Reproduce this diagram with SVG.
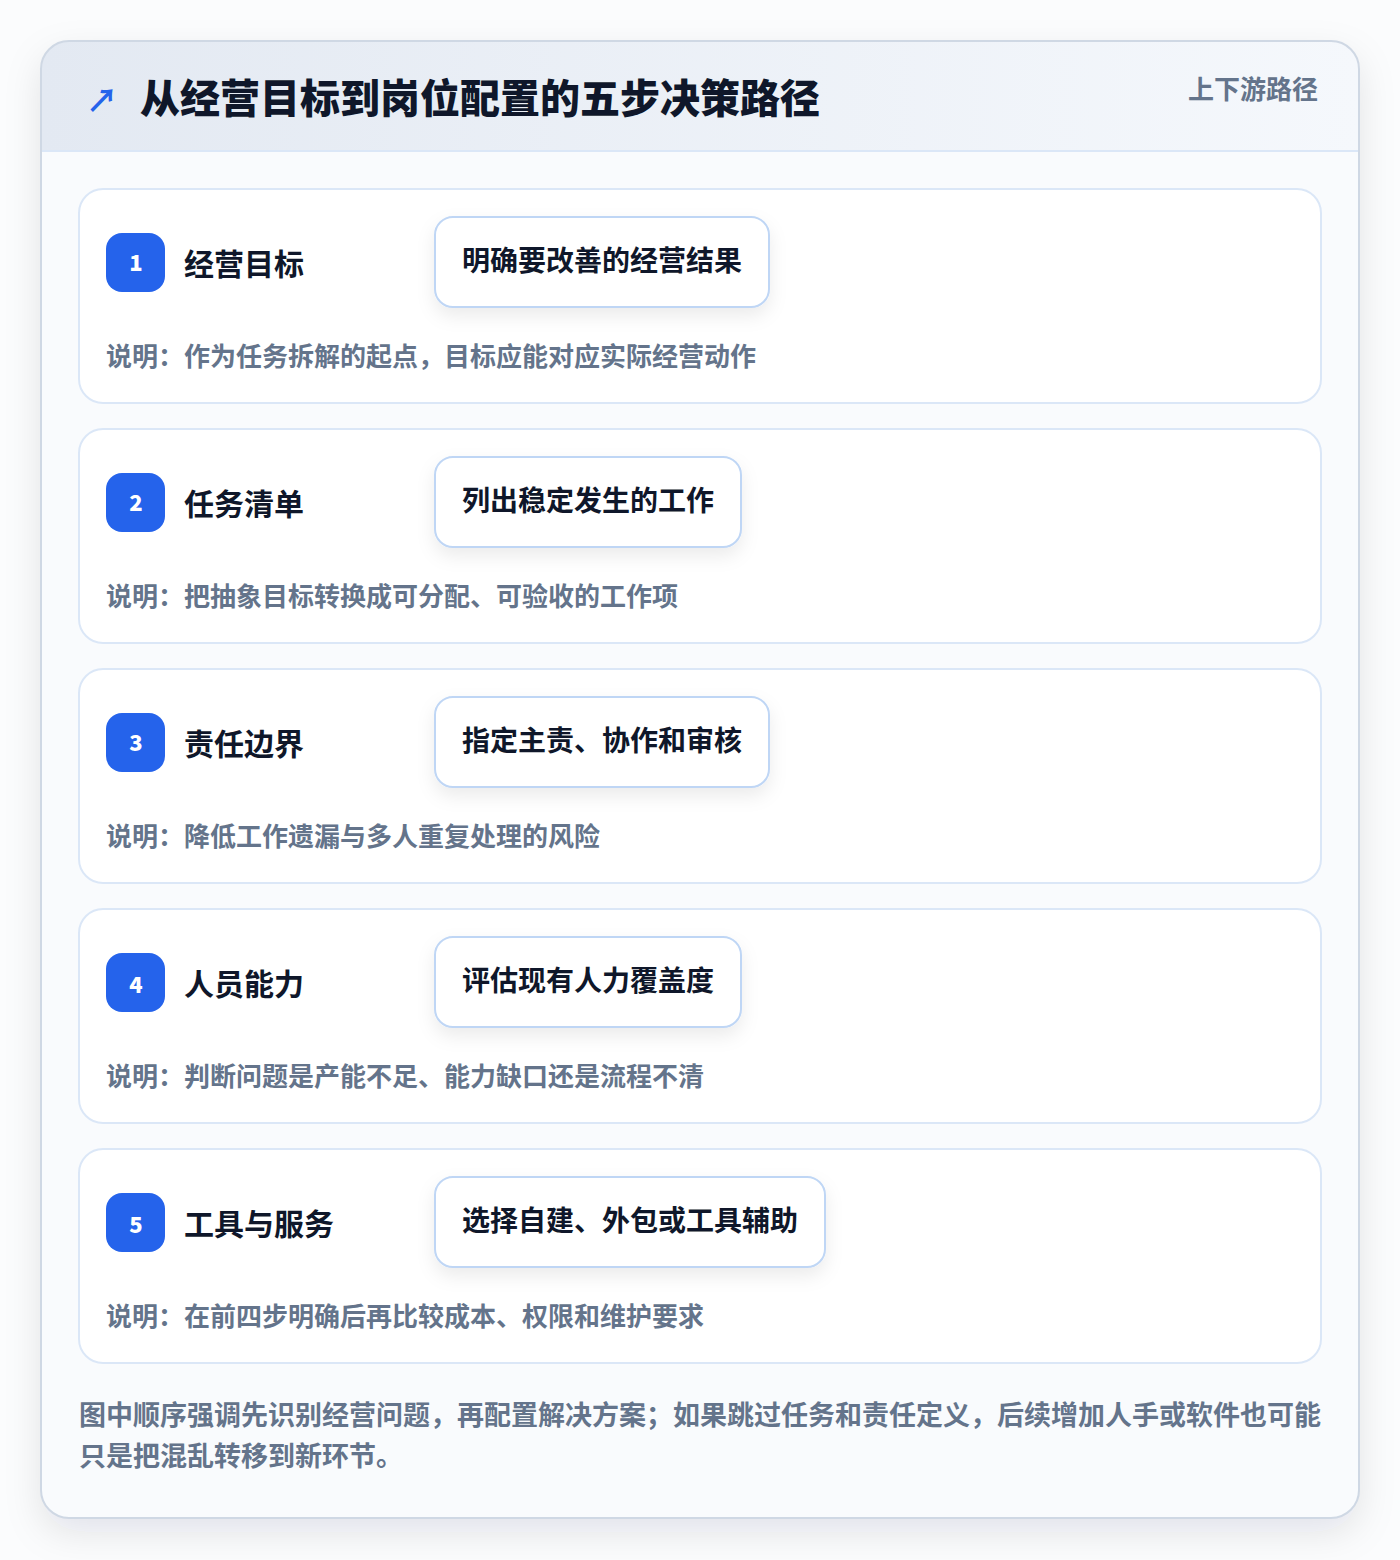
<svg xmlns="http://www.w3.org/2000/svg" width="1400" height="1560" viewBox="0 0 1400 1560">
<defs>
<style>
.cjk{font-family:"Noto Sans CJK SC","Noto Sans",sans-serif}
.card{fill:#ffffff;stroke:#dbe7f7;stroke-width:2}
.badge{fill:#2563eb}
.num{font-size:22px;font-weight:900;fill:#ffffff;text-anchor:middle}
.ttl{font-size:30px;font-weight:700;fill:#0f172a}
.pill{fill:#ffffff;stroke:#bfd6f5;stroke-width:2}
.ptxt{font-size:28px;font-weight:700;fill:#0f172a}
.desc{font-size:26px;font-weight:700;fill:#64748b}
.foot{font-size:27px;font-weight:700;fill:#64748b}
</style>
<linearGradient id="hdr" x1="0" y1="0" x2="1" y2="0">
<stop offset="0" stop-color="#e3e9f2"/>
<stop offset="1" stop-color="#f5f8fc"/>
</linearGradient>
<filter id="outerShadow" x="-10%" y="-10%" width="120%" height="120%">
<feDropShadow dx="0" dy="14" stdDeviation="18" flood-color="#0f172a" flood-opacity="0.10"/>
</filter>
<filter id="pillShadow" x="-20%" y="-40%" width="140%" height="190%">
<feDropShadow dx="0" dy="8" stdDeviation="9" flood-color="#0f172a" flood-opacity="0.08"/>
</filter>
<clipPath id="outerClip"><rect x="41" y="41" width="1318" height="1477" rx="28"/></clipPath>
</defs>
<rect x="0" y="0" width="1400" height="1560" fill="#fbfcfd"/>
<g id="frame">
<rect x="41" y="41" width="1318" height="1477" rx="28" fill="#f9fbfd" filter="url(#outerShadow)"/>
<g clip-path="url(#outerClip)">
<rect x="41" y="41" width="1318" height="110" fill="url(#hdr)"/>
</g>
<line x1="41" y1="151" x2="1359" y2="151" stroke="#dbe7f7" stroke-width="2"/>
<rect x="41" y="41" width="1318" height="1477" rx="28" fill="none" stroke="#cfd8e4" stroke-width="2"/>
</g>
<g id="header">
<text x="86" y="112" class="cjk" font-size="32" font-weight="700" fill="#2563eb">↗</text>
<text x="140" y="113" class="cjk" font-size="40" font-weight="900" fill="#0f172a">从经营目标到岗位配置的五步决策路径</text>
<text x="1318" y="99" class="cjk" font-size="26" font-weight="700" fill="#64748b" text-anchor="end">上下游路径</text>
</g>
<g id="step1">
<rect class="card" x="79" y="189" width="1242" height="214" rx="24"/>
<rect class="badge" x="106" y="233" width="59" height="59" rx="16"/>
<text class="cjk num" x="136" y="271">1</text>
<text class="cjk ttl" x="184" y="275">经营目标</text>
<rect class="pill" x="435" y="217" width="334" height="90" rx="18" filter="url(#pillShadow)"/>
<text class="cjk ptxt" x="462" y="271">明确要改善的经营结果</text>
<text class="cjk desc" x="106" y="366">说明：作为任务拆解的起点，目标应能对应实际经营动作</text>
</g>
<g id="step2">
<rect class="card" x="79" y="429" width="1242" height="214" rx="24"/>
<rect class="badge" x="106" y="473" width="59" height="59" rx="16"/>
<text class="cjk num" x="136" y="511">2</text>
<text class="cjk ttl" x="184" y="515">任务清单</text>
<rect class="pill" x="435" y="457" width="306" height="90" rx="18" filter="url(#pillShadow)"/>
<text class="cjk ptxt" x="462" y="511">列出稳定发生的工作</text>
<text class="cjk desc" x="106" y="606">说明：把抽象目标转换成可分配、可验收的工作项</text>
</g>
<g id="step3">
<rect class="card" x="79" y="669" width="1242" height="214" rx="24"/>
<rect class="badge" x="106" y="713" width="59" height="59" rx="16"/>
<text class="cjk num" x="136" y="751">3</text>
<text class="cjk ttl" x="184" y="755">责任边界</text>
<rect class="pill" x="435" y="697" width="334" height="90" rx="18" filter="url(#pillShadow)"/>
<text class="cjk ptxt" x="462" y="751">指定主责、协作和审核</text>
<text class="cjk desc" x="106" y="846">说明：降低工作遗漏与多人重复处理的风险</text>
</g>
<g id="step4">
<rect class="card" x="79" y="909" width="1242" height="214" rx="24"/>
<rect class="badge" x="106" y="953" width="59" height="59" rx="16"/>
<text class="cjk num" x="136" y="993">4</text>
<text class="cjk ttl" x="184" y="995">人员能力</text>
<rect class="pill" x="435" y="937" width="306" height="90" rx="18" filter="url(#pillShadow)"/>
<text class="cjk ptxt" x="462" y="991">评估现有人力覆盖度</text>
<text class="cjk desc" x="106" y="1086">说明：判断问题是产能不足、能力缺口还是流程不清</text>
</g>
<g id="step5">
<rect class="card" x="79" y="1149" width="1242" height="214" rx="24"/>
<rect class="badge" x="106" y="1193" width="59" height="59" rx="16"/>
<text class="cjk num" x="136" y="1233">5</text>
<text class="cjk ttl" x="184" y="1235">工具与服务</text>
<rect class="pill" x="435" y="1177" width="390" height="90" rx="18" filter="url(#pillShadow)"/>
<text class="cjk ptxt" x="462" y="1231">选择自建、外包或工具辅助</text>
<text class="cjk desc" x="106" y="1326">说明：在前四步明确后再比较成本、权限和维护要求</text>
</g>
<g id="connectors"></g>
<g id="footer">
<text class="cjk foot" x="79" y="1425">图中顺序强调先识别经营问题，再配置解决方案；如果跳过任务和责任定义，后续增加人手或软件也可能</text>
<text class="cjk foot" x="79" y="1466">只是把混乱转移到新环节。</text>
</g>
</svg>
